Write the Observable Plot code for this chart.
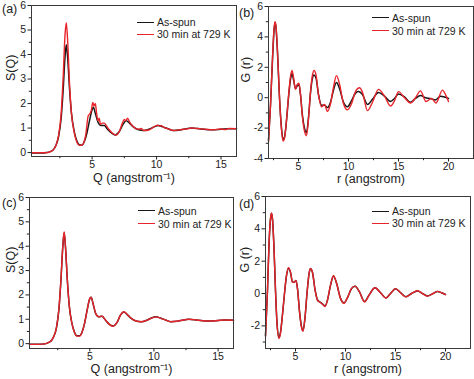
<!DOCTYPE html>
<html><head><meta charset="utf-8">
<script src="https://cdn.jsdelivr.net/npm/d3@7"></script>
<script src="https://cdn.jsdelivr.net/npm/@observablehq/plot@0.6"></script>
<style>
body{margin:0;background:#fff;}
#fig{position:relative;width:474px;height:379px;font-family:"Liberation Sans",Arial,sans-serif;color:#222;overflow:hidden;}
.panel{position:absolute;}
.panel svg{overflow:visible;}
.lg{position:absolute;font-size:10.5px;white-space:nowrap;}
.lg .row{display:flex;align-items:center;height:12px;}
.lg .sw{width:17px;height:0;border-top:1.6px solid;margin-right:3px;}
.tag{position:absolute;font-size:12.5px;line-height:13px;}
</style></head><body><div id="fig"></div>
<script>
// ---------- data ----------
const seriesNames = ["As-spun", "30 min at 729 K"];
const panelTags = ["(a)", "(b)", "(c)", "(d)"];
const xLabelQ = "Q (angstrom\u207B\u00B9)";
const xLabelR = "r (angstrom)";
const yLabelS = "S(Q)";
const yLabelG = "G (r)";

const qTicks = [5, 10, 15];
const qMinor = [2.5, 7.5, 12.5];
const rTicks = [5, 10, 15, 20];
const rMinor = [2.5, 7.5, 12.5, 17.5];
const sTicks = [0, 1, 2, 3, 4, 5, 6];
const sMinor = [0.5, 1.5, 2.5, 3.5, 4.5, 5.5];
const gTicksB = [-4, -2, 0, 2, 4, 6];
const gMinorB = [-3, -1, 1, 3, 5];
const gTicksD = [-2, 0, 2, 4, 6];
const gMinorD = [-3, -1, 1, 3, 5];

// (a) S(Q)
const qA = [0.3,1.0,1.5,1.8,2.0, 2.2,2.4,2.6,2.75,2.9, 3.0,3.1,3.25,3.4,3.6, 3.8,4.0,4.2,4.4,4.6, 4.8,5.0,5.1,5.25,5.45, 5.7,5.95,6.2,6.5,6.8, 7.1,7.4,7.65,7.9,8.2, 8.6,9.0,9.4,9.8,10.15, 10.5,10.9,11.3,11.8,12.3, 12.7,13.2,13.8,14.4,15.0, 15.6,16.2];
const sA_asSpun = [-0.02,-0.02,0.0,0.05,0.12, 0.3,0.65,1.4,2.5,3.9, 4.4,3.9,2.6,1.6,0.9, 0.5,0.32,0.3,0.45,0.8, 1.3,1.75,1.85,1.6,1.25, 1.1,1.1,0.95,0.8,0.72, 0.85,1.15,1.3,1.2,1.05, 0.93,0.9,0.95,1.05,1.1, 1.05,0.97,0.9,0.92,0.97, 1.0,0.98,0.94,0.93,0.95, 0.97,0.97];
const qA_ann = [0.3,1.0,1.5,1.8,2.0, 2.2,2.4,2.6,2.75,2.9, 3.0,3.1,3.25,3.4,3.6, 3.8,4.0,4.2,4.35,4.5, 4.7,4.85,4.95,5.05,5.15, 5.25,5.35,5.45,5.55,5.65, 5.8,5.95,6.1,6.3,6.6, 6.9,7.1,7.35,7.5,7.6, 7.75,7.9,8.2,8.6,8.8, 9.0,9.4,9.8,10.1,10.2, 10.35,10.6,10.9,11.3,11.8, 12.3,12.7,13.2,13.8,14.4, 15.0,15.3,15.6,16.2];
const sA_annealed = [-0.01,-0.01,0.0,0.05,0.12, 0.3,0.7,1.6,3.0,4.8, 5.3,4.6,2.8,1.6,0.85, 0.45,0.3,0.3,0.4,0.7, 1.5,1.6,1.75,2.05,1.9, 2.0,1.6,1.3,1.4,1.15, 1.2,1.2,1.1,0.95,0.78, 0.72,0.85,1.2,1.35,1.3, 1.4,1.25,1.05,0.95,0.98, 0.9,0.92,1.05,1.12,1.08, 1.1,1.02,0.97,0.9,0.93, 0.96,1.0,0.98,0.95,0.93, 0.96,0.94,0.98,0.97];

// (c) S(Q)
const qC = [0.3,1.0,1.5,1.8,2.0, 2.2,2.4,2.6,2.75,2.9, 3.0,3.1,3.25,3.4,3.6, 3.8,4.0,4.2,4.4,4.6, 4.8,5.0,5.1,5.25,5.45, 5.7,5.95,6.2,6.5,6.8, 7.1,7.4,7.65,7.9,8.2, 8.6,9.0,9.4,9.8,10.15, 10.5,10.9,11.3,11.8,12.3, 12.7,13.2,13.8,14.4,15.0, 15.6,16.2];
const sC_asSpun = [-0.03,-0.03,-0.01,0.05,0.12, 0.3,0.65,1.45,2.6,4.0, 4.55,4.0,2.6,1.55,0.85, 0.48,0.32,0.32,0.48,0.85, 1.4,1.85,1.9,1.65,1.25, 1.1,1.12,0.98,0.8,0.72, 0.85,1.18,1.3,1.2,1.05, 0.93,0.9,0.95,1.05,1.1, 1.05,0.97,0.9,0.92,0.97, 1.0,0.98,0.94,0.93,0.95, 0.97,0.96];
const sC_annealed = [-0.03,-0.03,-0.01,0.05,0.12, 0.3,0.66,1.47,2.62,4.05, 4.6,4.02,2.6,1.55,0.84, 0.47,0.31,0.31,0.47,0.84, 1.4,1.86,1.91,1.66,1.25, 1.1,1.13,0.98,0.8,0.71, 0.85,1.18,1.31,1.21,1.05, 0.93,0.9,0.95,1.05,1.1, 1.05,0.97,0.9,0.92,0.97, 1.0,0.98,0.94,0.93,0.95, 0.97,0.96];

// (b) G(r)
const rB = [2.0,2.2,2.4,2.55,2.65, 2.75,2.9,3.1,3.3,3.45, 3.6,3.8,4.0,4.2,4.35, 4.5,4.7,4.85,5.05,5.2, 5.4,5.6,5.8,6.0,6.2, 6.4,6.55,6.75,7.0,7.3, 7.6,7.9,8.2,8.5,8.8, 9.1,9.5,9.9,10.3,10.7, 11.0,11.4,11.9,12.4,13.0, 13.6,14.2,14.6,15.0,15.6, 16.2,16.7,17.2,17.7,18.2, 18.7,19.2,19.6,20.0];
const gB_asSpun = [-2.8,-0.5,2.5,4.4,4.95, 4.6,3.0,0.0,-2.0,-2.75, -2.6,-1.5,0.0,1.2,1.6, 1.2,0.6,0.75,0.85,0.2, -1.2,-2.0,-2.3,-1.3,0.3, 1.3,1.5,1.3,0.2,-0.5, -0.5,-0.65,-0.3,0.5,1.0, 0.6,-0.3,-0.6,-0.2,0.3, 0.4,0.2,-0.45,-0.1,0.35, 0.1,-0.25,-0.05,0.25,0.05, -0.3,-0.05,0.15,0.0,-0.05, -0.15,0.1,0.05,-0.05];
const rB_ann = [2.0,2.2,2.4,2.55,2.65, 2.75,2.9,3.1,3.3,3.45, 3.6,3.8,4.0,4.2,4.35, 4.5,4.7,4.85,5.05,5.2, 5.4,5.6,5.8,6.0,6.2, 6.4,6.55,6.75,7.0,7.3, 7.6,7.9,8.2,8.5,8.8, 9.1,9.5,9.9,10.3,10.7, 11.1,11.4,11.9,12.4,13.0, 13.6,14.2,14.6,15.0,15.6, 16.2,16.7,17.2,17.75,18.3, 18.75,19.4,19.7,20.0];
const gB_annealed = [-2.9,-0.5,2.6,4.5,5.0, 4.7,3.0,0.0,-2.1,-2.85, -2.65,-1.5,0.1,1.4,1.8, 1.35,0.55,0.85,0.95,0.2, -1.3,-2.2,-2.5,-1.4,0.4, 1.5,1.8,1.5,0.2,-0.6, -0.45,-0.9,-0.4,0.7,1.45, 0.9,-0.4,-0.8,-0.4,0.4, 0.65,0.35,-0.85,-0.3,0.55, 0.1,-0.55,-0.2,0.4,0.0, -0.35,0.0,0.45,-0.25,-0.05, -0.35,0.5,0.2,-0.25];

// (d) G(r)
const rD = [2.0,2.2,2.35,2.5,2.6, 2.7,2.85,3.0,3.15,3.35, 3.5,3.7,3.9,4.1,4.3, 4.5,4.7,4.85,5.05,5.2, 5.4,5.6,5.75,5.95,6.15, 6.35,6.5,6.7,6.95,7.2, 7.5,7.8,7.95,8.2,8.5, 8.8,9.1,9.5,9.85,10.2, 10.6,10.95,11.4,11.9,12.4, 12.95,13.5,14.05,14.5,15.0, 15.5,16.05,16.6,17.2,17.7, 18.2,18.7,19.2,19.6,20.0];
const gD_asSpun = [-2.6,0.2,3.0,4.6,4.95, 4.6,2.8,0.2,-1.8,-2.72, -2.4,-1.3,0.0,1.1,1.57, 1.3,0.72,0.7,0.8,0.3, -1.1,-2.05,-2.3,-1.5,0.0, 1.2,1.53,1.3,0.25,-0.4, -0.55,-0.7,-0.78,-0.4,0.5, 1.08,0.65,-0.3,-0.58,-0.25, 0.3,0.45,0.1,-0.5,-0.05, 0.35,0.05,-0.27,0.0,0.29, 0.05,-0.2,0.0,0.16,0.0, -0.15,-0.02,0.12,0.05,-0.06];
const gD_annealed = [-2.65,0.2,3.05,4.65,4.98, 4.62,2.8,0.18,-1.85,-2.78, -2.45,-1.3,0.02,1.12,1.6, 1.32,0.7,0.68,0.8,0.28, -1.12,-2.1,-2.33,-1.5,0.02, 1.22,1.55,1.3,0.24,-0.42, -0.56,-0.72,-0.8,-0.4,0.52, 1.1,0.65,-0.3,-0.6,-0.25, 0.32,0.46,0.1,-0.52,-0.05, 0.36,0.05,-0.28,0.0,0.3, 0.05,-0.21,0.0,0.17,0.0, -0.16,-0.02,0.13,0.05,-0.07];

// ---------- drawing ----------
const FONT = '"Liberation Sans", Arial, sans-serif';
const BLACK = "#161616";
const RED = "#e8242b";
const fig = document.getElementById("fig");
const mk = (xs, ys) => xs.map((x, i) => ({x, y: ys[i]}));
const fmt = d => String(d);

function panel(c) {
  const svg = Plot.plot({
    width: c.w, height: c.h,
    marginTop: c.m[0], marginRight: c.m[1], marginBottom: c.m[2], marginLeft: c.m[3],
    x: {domain: c.xd}, y: {domain: c.yd},
    style: {fontFamily: FONT, fontSize: "10.5px", color: "#222", background: "transparent", overflow: "visible"},
    marks: [
      Plot.line(mk(c.x1, c.y1), {x: "x", y: "y", stroke: BLACK, strokeWidth: 1.5, curve: "monotone-x"}),
      Plot.line(mk(c.x2, c.y2), {x: "x", y: "y", stroke: RED, strokeWidth: 1.4, curve: "monotone-x"}),
      Plot.frame({stroke: "#3a3a3a", strokeWidth: 1}),
      Plot.axisX({ticks: c.xt, tickSize: 3.5, tickPadding: 1, tickFormat: fmt, label: null, fontSize: 10.5}),
      Plot.axisX({ticks: c.xm, tickSize: 2.2, fill: "none", label: null}),
      Plot.axisY({ticks: c.yt, tickSize: 3.5, tickPadding: 2, tickFormat: fmt, label: null, fontSize: 10.5}),
      Plot.axisY({ticks: c.ym, tickSize: 2.2, fill: "none", label: null}),
      Plot.text([c.xl], {text: d => d, frameAnchor: "bottom", dy: c.xlDy, fontSize: 12.5}),
      Plot.text([c.yl], {text: d => d, frameAnchor: "left", dx: c.ylDx, rotate: -90, fontSize: 12.5})
    ]
  });
  const div = document.createElement("div");
  div.className = "panel";
  div.style.left = c.left + "px";
  div.style.top = c.top + "px";
  div.appendChild(svg);
  fig.appendChild(div);

  const tag = document.createElement("div");
  tag.className = "tag";
  tag.textContent = c.tag;
  tag.style.left = c.tagPos[0] + "px";
  tag.style.top = c.tagPos[1] + "px";
  fig.appendChild(tag);

  const lg = document.createElement("div");
  lg.className = "lg";
  lg.style.left = c.lgPos[0] + "px";
  lg.style.top = c.lgPos[1] + "px";
  [[BLACK, seriesNames[0]], [RED, seriesNames[1]]].forEach(([col, name]) => {
    const row = document.createElement("div");
    row.className = "row";
    row.style.height = c.lgRow + "px";
    const sw = document.createElement("span");
    sw.className = "sw";
    sw.style.borderTopColor = col;
    const t = document.createElement("span");
    t.textContent = name;
    row.appendChild(sw); row.appendChild(t);
    lg.appendChild(row);
  });
  fig.appendChild(lg);
}

panel({left: 0, top: 0, w: 237, h: 190, m: [5, 1, 34, 31],
  xd: [0.3, 16.2], yd: [-0.16, 6], xt: qTicks, xm: qMinor, yt: sTicks, ym: sMinor,
  x1: qA, y1: sA_asSpun, x2: qA_ann, y2: sA_annealed,
  xl: xLabelQ, yl: yLabelS, xlDy: 25, ylDx: -21,
  tag: panelTags[0], tagPos: [2, 3], lgPos: [137, 16], lgRow: 12});

panel({left: 237, top: 0, w: 237, h: 190, m: [6, 1, 32, 31],
  xd: [2, 22.5], yd: [-4, 6], xt: rTicks, xm: rMinor, yt: gTicksB, ym: gMinorB,
  x1: rB, y1: gB_asSpun, x2: rB_ann, y2: gB_annealed,
  xl: xLabelR, yl: yLabelG, xlDy: 24, ylDx: -23,
  tag: panelTags[1], tagPos: [239, 7], lgPos: [372, 11], lgRow: 13});

panel({left: 0, top: 190, w: 237, h: 189, m: [7, 4, 31, 29],
  xd: [0.3, 16.2], yd: [-0.2, 6], xt: qTicks, xm: qMinor, yt: sTicks, ym: sMinor,
  x1: qC, y1: sC_asSpun, x2: qC, y2: sC_annealed,
  xl: xLabelQ, yl: yLabelS, xlDy: 24, ylDx: -19,
  tag: panelTags[2], tagPos: [2, 197], lgPos: [138, 204], lgRow: 13});

panel({left: 237, top: 190, w: 237, h: 189, m: [6, 4, 31, 28],
  xd: [2, 22.5], yd: [-3.4, 6], xt: rTicks, xm: rMinor, yt: gTicksD, ym: gMinorD,
  x1: rD, y1: gD_asSpun, x2: rD, y2: gD_annealed,
  xl: xLabelR, yl: yLabelG, xlDy: 24, ylDx: -21,
  tag: panelTags[3], tagPos: [239, 198], lgPos: [372, 205], lgRow: 12});
</script>
</body></html>
